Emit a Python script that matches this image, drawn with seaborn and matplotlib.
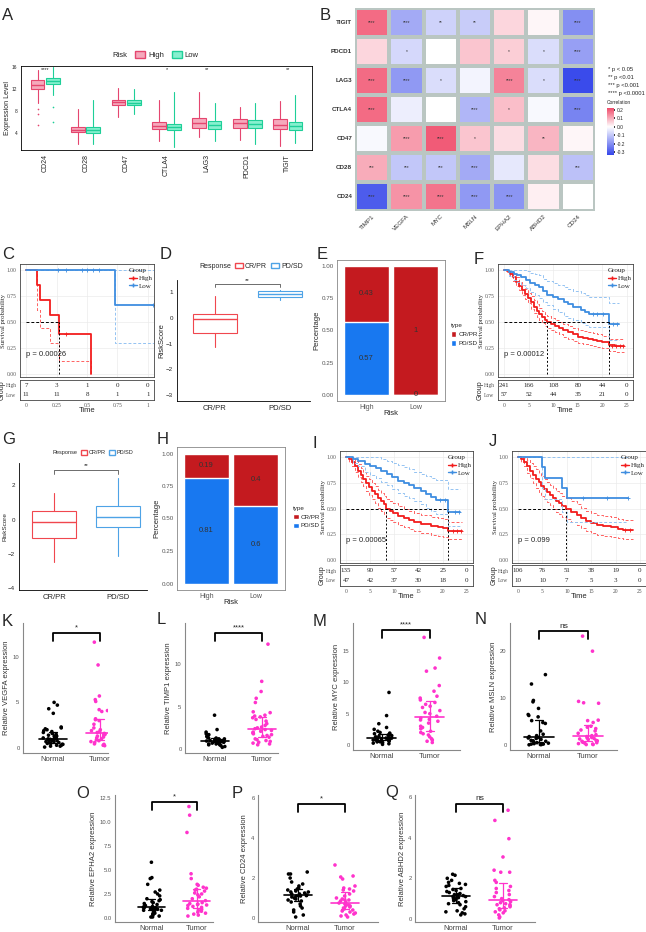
import numpy as np
import pandas as pd
import matplotlib
matplotlib.use("Agg")
import matplotlib.pyplot as plt
import seaborn as sns
from matplotlib.colors import LinearSegmentedColormap
from matplotlib.patches import Patch
from matplotlib.lines import Line2D

# ---------------- data ----------------
# A: immune checkpoint expression by risk group (box summaries)
a_genes = ['CD24', 'CD28', 'CD47', 'CTLA4', 'LAG3', 'PDCD1', 'TIGIT']
a_sig = ['****', '', '', '*', '**', '', '**']
a_high_med = [12.8, 4.7, 9.6, 5.4, 5.8, 5.8, 5.6]
a_high_q1 = [12.0, 4.2, 9.1, 4.8, 5.0, 5.0, 4.8]
a_high_q3 = [13.6, 5.2, 10.0, 6.0, 6.7, 6.6, 6.6]
a_high_lo = [9.5, 2.0, 7.0, 2.7, 3.3, 2.8, 1.7]
a_high_hi = [15.5, 8.5, 12.3, 10.0, 11.5, 8.8, 9.8]
a_high_out = [[8.5, 7.6, 5.5], [], [], [], [], [], []]
a_low_med = [13.5, 4.6, 9.5, 5.2, 5.5, 5.7, 5.4]
a_low_q1 = [13.0, 4.1, 9.1, 4.6, 4.8, 5.0, 4.6]
a_low_q3 = [14.1, 5.1, 10.0, 5.7, 6.2, 6.4, 6.1]
a_low_lo = [11.0, 2.0, 7.5, 1.5, 2.7, 2.0, 2.2]
a_low_hi = [16.0, 10.0, 12.0, 11.5, 9.5, 9.5, 11.0]
a_low_out = [[8.7, 6.0], [], [], [], [], [], []]

# B: correlation heatmap
b_rows = ['TIGIT', 'PDCD1', 'LAG3', 'CTLA4', 'CD47', 'CD28', 'CD24']
b_cols = ['TIMP1', 'VEGFA', 'MYC', 'MSLN', 'EPHA2', 'ABHD2', 'CD24']
b_tigit = [0.18, -0.15, -0.08, -0.09, 0.05, 0.01, -0.20]
b_pdcd1 = [0.05, -0.07, 0.0, 0.07, 0.06, -0.06, -0.17]
b_lag3 = [0.18, -0.18, -0.06, -0.02, 0.15, -0.06, -0.32]
b_ctla4 = [0.18, -0.03, 0.0, -0.13, 0.08, -0.01, -0.22]
b_cd47 = [-0.01, 0.12, 0.20, 0.07, 0.04, 0.09, 0.01]
b_cd28 = [0.10, -0.10, -0.10, -0.15, -0.04, 0.04, -0.11]
b_cd24 = [-0.29, 0.13, 0.17, -0.18, -0.19, 0.02, np.nan]
b_star_tigit = ['****', '****', '**', '**', '', '', '****']
b_star_pdcd1 = ['', '*', '', '', '*', '*', '****']
b_star_lag3 = ['****', '****', '*', '', '****', '*', '****']
b_star_ctla4 = ['****', '', '', '****', '*', '', '****']
b_star_cd47 = ['', '****', '****', '*', '', '**', '']
b_star_cd28 = ['***', '***', '***', '****', '', '', '***']
b_star_cd24 = ['****', '****', '****', '****', '****', '', '']

# C: KM curves
c_high_t = [0, 0.09, 0.115, 0.2, 0.27, 0.53]
c_high_s = [1, 0.857, 0.714, 0.571, 0.381, 0.0]
c_high_lo = [1, 0.62, 0.44, 0.30, 0.125, 0.0]
c_high_hi = [1, 1, 1, 1, 1, 1]
c_low_t = [0, 0.73, 1.05]
c_low_s = [1, 0.667, 0.667]
c_low_lo = [1, 0.30, 0.30]
c_low_hi = [1, 1, 1]
c_high_cens_t = [0.33]
c_high_cens_s = [0.381]
c_low_cens_t = [0.26, 0.33, 0.46, 0.50, 0.55, 0.60, 1.04]
c_low_cens_s = [1, 1, 1, 1, 1, 1, 0.667]
c_medians = [0.27]
c_risk_high = [7, 3, 1, 0, 0]
c_risk_low = [11, 11, 8, 1, 1]

# D / G: RiskScore by response (box summaries: whislo, q1, med, q3, whishi)
d_crpr = [-1.15, -0.6, -0.05, 0.15, 0.85]
d_pdsd = [0.69, 0.8, 0.92, 1.04, 1.08]
g_crpr = [-2.45, -1.05, -0.15, 0.5, 1.55]
g_pdsd = [-2.1, -0.4, 0.15, 0.8, 2.4]

# E / H: response proportions
risk_groups = ['High', 'Low']
e_crpr = [0.43, 1.0]
e_pdsd = [0.57, 0.0]
h_crpr = [0.19, 0.4]
h_pdsd = [0.81, 0.6]

# F
f_high_t = [0, 0.6, 1.2, 1.8, 2.4, 3.0, 3.6, 4.2, 4.8, 5.4, 6.0, 6.6, 7.2, 7.8, 8.4, 8.8, 9.6, 10.4,
            11.2, 12.0, 13.0, 14.0, 15.0, 16.0, 17.0, 18.0, 19.0, 20.0, 21.3, 22.5, 24.4]
f_high_s = [1, 0.99, 0.96, 0.93, 0.89, 0.85, 0.81, 0.77, 0.73, 0.69, 0.65, 0.61, 0.58, 0.55, 0.52, 0.50,
            0.48, 0.46, 0.44, 0.42, 0.40, 0.38, 0.36, 0.35, 0.34, 0.33, 0.32, 0.31, 0.28, 0.27, 0.27]
f_high_hi = [1, 1, 0.98, 0.96, 0.93, 0.89, 0.86, 0.82, 0.78, 0.75, 0.71, 0.67, 0.64, 0.61, 0.58, 0.56,
             0.54, 0.52, 0.50, 0.48, 0.46, 0.44, 0.42, 0.41, 0.40, 0.39, 0.38, 0.37, 0.34, 0.34, 0.34]
f_high_lo = [1, 0.98, 0.94, 0.90, 0.85, 0.81, 0.76, 0.72, 0.68, 0.63, 0.59, 0.55, 0.52, 0.49, 0.46, 0.44,
             0.42, 0.40, 0.38, 0.36, 0.34, 0.32, 0.30, 0.29, 0.28, 0.27, 0.26, 0.25, 0.22, 0.21, 0.21]
f_low_t = [0, 1.0, 2.0, 2.7, 3.5, 4.5, 5.3, 6.2, 7.0, 8.0, 8.8, 10.0, 11.0, 12.1, 13.0, 14.0, 15.6,
           16.5, 17.3, 21.3, 23.4]
f_low_s = [1, 0.98, 0.96, 0.95, 0.93, 0.91, 0.88, 0.86, 0.84, 0.80, 0.76, 0.74, 0.72, 0.69, 0.67, 0.65,
           0.62, 0.60, 0.58, 0.485, 0.485]
f_low_hi = [1, 1, 1, 1, 1, 0.99, 0.97, 0.96, 0.95, 0.92, 0.90, 0.88, 0.86, 0.84, 0.82, 0.80, 0.78,
            0.76, 0.74, 0.68, 0.68]
f_low_lo = [1, 0.94, 0.91, 0.89, 0.86, 0.83, 0.79, 0.76, 0.73, 0.69, 0.66, 0.63, 0.60, 0.56, 0.54,
            0.52, 0.49, 0.47, 0.45, 0.33, 0.33]
f_high_cens_t = [22.0, 22.8, 23.5, 24.2]
f_high_cens_s = [0.27, 0.27, 0.27, 0.27]
f_low_cens_t = [18.0, 19.0, 20.2, 22.2, 23.0]
f_low_cens_s = [0.58, 0.58, 0.58, 0.485, 0.485]
f_medians = [8.8, 21.3]
f_risk_high = [241, 166, 108, 80, 44, 0]
f_risk_low = [57, 52, 44, 35, 21, 0]

# I
i_high_t = [0, 0.6, 1.2, 1.8, 2.4, 3.0, 3.6, 4.2, 4.8, 5.4, 6.0, 6.6, 7.2, 7.8, 8.3, 9.0, 9.8, 10.8,
            12.0, 13.0, 14.0, 15.5, 17.5, 19.0, 20.0, 21.1, 22.5, 24.0]
i_high_s = [1, 0.98, 0.95, 0.91, 0.87, 0.83, 0.79, 0.75, 0.71, 0.67, 0.64, 0.60, 0.57, 0.54, 0.50,
            0.48, 0.46, 0.43, 0.41, 0.39, 0.37, 0.35, 0.33, 0.32, 0.31, 0.28, 0.28, 0.28]
i_high_hi = [1, 1, 0.99, 0.96, 0.93, 0.89, 0.86, 0.82, 0.79, 0.75, 0.72, 0.68, 0.65, 0.62, 0.59,
             0.57, 0.55, 0.52, 0.50, 0.48, 0.46, 0.44, 0.42, 0.41, 0.40, 0.37, 0.37, 0.37]
i_high_lo = [1, 0.95, 0.91, 0.86, 0.81, 0.76, 0.72, 0.67, 0.63, 0.59, 0.55, 0.51, 0.48, 0.45, 0.41,
             0.39, 0.37, 0.34, 0.32, 0.30, 0.28, 0.26, 0.24, 0.23, 0.22, 0.20, 0.20, 0.20]
i_low_t = [0, 1.5, 2.5, 3.9, 5.0, 6.2, 7.3, 8.5, 9.5, 10.8, 12.0, 13.0, 14.0, 15.5, 16.5, 17.5,
           18.5, 21.1, 23.6]
i_low_s = [1, 0.98, 0.96, 0.93, 0.91, 0.89, 0.87, 0.84, 0.81, 0.77, 0.75, 0.73, 0.70, 0.67, 0.64,
           0.61, 0.58, 0.47, 0.47]
i_low_hi = [1, 1, 1, 1, 1, 1, 0.98, 0.96, 0.94, 0.92, 0.90, 0.88, 0.86, 0.84, 0.82, 0.80, 0.78,
            0.69, 0.69]
i_low_lo = [1, 0.94, 0.91, 0.86, 0.83, 0.80, 0.76, 0.73, 0.69, 0.65, 0.62, 0.60, 0.57, 0.54, 0.51,
            0.48, 0.45, 0.33, 0.33]
i_high_cens_t = [22.2, 23.0, 23.8]
i_high_cens_s = [0.28, 0.28, 0.28]
i_low_cens_t = [19.5, 20.5, 22.5, 23.4]
i_low_cens_s = [0.58, 0.58, 0.47, 0.47]
i_medians = [8.3, 21.1]
i_risk_high = [135, 90, 57, 42, 25, 0]
i_risk_low = [47, 42, 37, 30, 18, 0]

# J
j_high_t = [0, 0.6, 1.2, 1.8, 2.4, 3.0, 3.6, 4.2, 4.8, 5.4, 6.0, 6.6, 7.2, 7.8, 8.4, 9.0, 9.8, 10.8,
            12.0, 13.0, 14.0, 15.0, 16.2, 17.5, 19.0, 20.5, 21.5, 23.6]
j_high_s = [1, 0.98, 0.95, 0.91, 0.87, 0.83, 0.79, 0.76, 0.72, 0.69, 0.66, 0.63, 0.60, 0.57, 0.55,
            0.52, 0.50, 0.47, 0.44, 0.41, 0.38, 0.36, 0.34, 0.33, 0.32, 0.30, 0.29, 0.29]
j_high_hi = [1, 1, 0.99, 0.97, 0.94, 0.91, 0.88, 0.85, 0.82, 0.79, 0.76, 0.73, 0.70, 0.67, 0.65,
             0.62, 0.60, 0.57, 0.54, 0.51, 0.48, 0.46, 0.44, 0.43, 0.42, 0.40, 0.39, 0.39]
j_high_lo = [1, 0.95, 0.91, 0.85, 0.80, 0.75, 0.70, 0.66, 0.62, 0.59, 0.56, 0.53, 0.50, 0.47, 0.45,
             0.42, 0.40, 0.37, 0.34, 0.31, 0.28, 0.26, 0.24, 0.23, 0.22, 0.21, 0.20, 0.20]
j_low_t = [0, 5.0, 5.5, 9.0, 10.0, 22.5]
j_low_s = [1, 0.9, 0.8, 0.7, 0.6, 0.6]
j_low_hi = [1, 1, 1, 1, 1, 1]
j_low_lo = [1, 0.70, 0.59, 0.47, 0.37, 0.37]
j_high_cens_t = [22.0, 23.0]
j_high_cens_s = [0.29, 0.29]
j_low_cens_t = [13.3, 18.2, 22.5]
j_low_cens_s = [0.6, 0.6, 0.6]
j_medians = [9.8]
j_risk_high = [106, 76, 51, 38, 19, 0]
j_risk_low = [10, 10, 7, 5, 3, 0]

# K-Q: qPCR relative expression
k_normal = [5.0, 4.7, 4.3, 3.8, 2.3, 2.2, 2.1, 2.0, 1.9, 1.8, 1.7, 1.6, 1.5, 1.4, 1.3, 1.2, 1.1, 1.0,
            1.0, 0.9, 0.9, 0.8, 0.8, 0.7, 0.7, 0.6, 0.6, 0.5, 0.5, 0.4, 0.4, 0.3, 0.3, 0.2, 0.2, 0.1,
            1.1, 1.3, 0.95]
k_tumor = [11.6, 9.1, 5.7, 5.3, 5.1, 4.2, 4.1, 4.0, 3.2, 3.1, 3.0, 2.6, 2.2, 2.0, 1.9, 1.8, 1.7, 1.6,
           1.5, 1.45, 1.4, 1.3, 1.2, 1.1, 1.0, 0.9, 0.8, 0.7, 0.6, 0.5, 0.45, 0.4, 0.3, 0.25]
l_normal = [4.0, 2.3, 2.0, 1.8, 1.7, 1.6, 1.5, 1.4, 1.3, 1.3, 1.2, 1.2, 1.1, 1.1, 1.0, 1.0, 1.0, 0.9,
            0.9, 0.9, 0.8, 0.8, 0.8, 0.7, 0.7, 0.6, 0.6, 0.5, 0.5, 0.4, 0.3, 0.2, 1.05, 0.95, 1.15, 0.85]
l_tumor = [12.4, 8.0, 6.8, 6.0, 5.5, 4.4, 4.3, 4.0, 3.9, 3.8, 3.7, 3.5, 3.0, 2.8, 2.6, 2.5, 2.3, 2.2,
           2.1, 2.0, 1.9, 1.8, 1.7, 1.5, 1.4, 1.2, 1.1, 1.0, 0.9, 0.8, 0.7, 0.6, 0.5, 1.6, 2.4, 3.3]
m_normal = [8.4, 4.7, 3.4, 2.8, 2.5, 2.2, 2.0, 1.9, 1.8, 1.7, 1.6, 1.5, 1.4, 1.3, 1.2, 1.2, 1.1, 1.1,
            1.0, 1.0, 0.9, 0.9, 0.8, 0.8, 0.7, 0.6, 0.6, 0.5, 0.5, 0.4, 0.3, 0.2, 0.1, 1.05]
m_tumor = [17.2, 13.9, 12.3, 11.8, 9.5, 8.6, 7.8, 7.5, 7.2, 6.8, 6.5, 6.2, 6.0, 5.5, 5.0, 4.6, 4.3,
           4.1, 4.0, 3.8, 3.5, 3.0, 2.6, 2.2, 2.0, 1.8, 1.6, 1.3, 1.0, 0.8, 0.6, 0.4, 2.8, 5.2]
n_normal = [15.0, 13.0, 9.2, 9.5, 7.8, 6.5, 6.3, 6.0, 5.2, 4.8, 4.6, 3.0, 2.3, 2.0, 1.8, 1.6, 1.4,
            1.2, 1.0, 0.9, 0.8, 0.6, 0.5, 0.4, 0.3, 0.2, 0.2, 0.1, 0.1, 0.05, 1.7, 1.5]
n_tumor = [23.2, 20.0, 9.3, 9.0, 8.9, 5.3, 5.2, 4.8, 4.0, 3.8, 3.5, 3.2, 3.0, 2.5, 2.2, 2.0, 1.8, 1.6,
           1.5, 1.4, 1.3, 1.2, 1.0, 0.9, 0.8, 0.6, 0.5, 0.4, 0.3, 0.2, 0.1, 0.1]
o_normal = [5.8, 4.2, 4.1, 3.5, 2.9, 2.7, 2.5, 2.3, 2.0, 1.9, 1.8, 1.7, 1.6, 1.5, 1.4, 1.3, 1.2, 1.1,
            1.1, 1.0, 1.0, 0.9, 0.9, 0.8, 0.8, 0.7, 0.6, 0.5, 0.4, 0.3, 0.2, 0.1, 0.1, 1.05, 1.15, 0.95]
o_tumor = [11.6, 10.7, 8.9, 4.6, 4.1, 3.5, 3.4, 3.2, 3.0, 2.8, 2.6, 2.5, 2.4, 2.2, 2.0, 1.8, 1.6, 1.5,
           1.4, 1.35, 1.3, 1.2, 1.1, 1.0, 0.9, 0.8, 0.7, 0.6, 0.5, 0.4, 0.3, 0.2, 1.45, 2.9, 3.1]
p_normal = [2.3, 2.2, 2.2, 2.0, 1.8, 1.7, 1.6, 1.5, 1.45, 1.4, 1.35, 1.3, 1.25, 1.2, 1.2, 1.15, 1.1,
            1.1, 1.05, 1.0, 1.0, 0.95, 0.9, 0.85, 0.8, 0.7, 0.6, 0.5, 0.4, 0.3, 0.15, 0.05, 1.3, 1.12]
p_tumor = [2.65, 2.1, 2.05, 1.95, 1.6, 1.5, 1.45, 1.4, 1.35, 1.2, 1.1, 1.0, 0.95, 0.9, 0.85, 0.8,
           0.75, 0.7, 0.7, 0.65, 0.6, 0.55, 0.5, 0.45, 0.4, 0.35, 0.3, 0.25, 0.2, 0.15, 0.1, 0.05, 0.9, 0.6]
q_normal = [2.2, 2.15, 2.0, 1.9, 1.8, 1.75, 1.7, 1.65, 1.6, 1.5, 1.45, 1.4, 1.35, 1.3, 1.25, 1.2,
            1.15, 1.1, 1.1, 1.05, 1.0, 0.95, 0.9, 0.85, 0.8, 0.75, 0.7, 0.6, 0.5, 0.4, 0.35, 0.3, 0.25,
            0.2, 1.2, 1.0]
q_tumor = [5.35, 4.85, 3.95, 3.05, 2.4, 2.3, 2.3, 1.9, 1.8, 1.6, 1.5, 1.4, 1.2, 1.1, 1.0, 0.95, 0.9,
           0.85, 0.8, 0.75, 0.7, 0.65, 0.6, 0.55, 0.5, 0.45, 0.4, 0.35, 0.3, 0.2, 0.1, 0.05, 0.7, 1.3]

# ---------------- style ----------------
sns.set_theme(style="white")
plt.rcParams['font.family'] = ['Liberation Sans', 'DejaVu Sans']
plt.rcParams['axes.linewidth'] = 0.6
SERIF = ['Liberation Serif', 'DejaVu Serif']
KM_RED, KM_RED_CI = '#F21D1D', '#FF6161'
KM_BLUE, KM_BLUE_CI = '#3F8EE0', '#94C3F2'
BAR_RED, BAR_BLUE = '#C41A1F', '#1878F0'
MAG = '#FF33CC'
np.random.seed(3)

W, H = 646, 932
fig = plt.figure(figsize=(W / 100, H / 100), dpi=100)


def px_axes(l, t, r, b):
    return fig.add_axes([l / W, 1 - b / H, (r - l) / W, (b - t) / H])


def panel_label(x, y, s):
    fig.text(x / W, 1 - y / H, s, fontsize=12, va='center', ha='left')


# ---------------- A ----------------
ax = px_axes(21, 66, 312, 150)
pos = np.arange(len(a_genes))
for off, med, q1, q3, lo, hi, outs, ec, fc in [
        (-0.19, a_high_med, a_high_q1, a_high_q3, a_high_lo, a_high_hi, a_high_out, '#E5466F', '#F5A9BC'),
        (0.19, a_low_med, a_low_q1, a_low_q3, a_low_lo, a_low_hi, a_low_out, '#1ECF98', '#86F0CF')]:
    stats = [dict(med=m, q1=a, q3=b, whislo=l, whishi=h, fliers=f)
             for m, a, b, l, h, f in zip(med, q1, q3, lo, hi, outs)]
    ax.bxp(stats, positions=pos + off, widths=0.34, patch_artist=True, showcaps=False,
           boxprops=dict(facecolor=fc, edgecolor=ec, lw=0.8),
           medianprops=dict(color=ec, lw=1.0), whiskerprops=dict(color=ec, lw=0.8),
           flierprops=dict(marker='o', ms=1.2, mfc=ec, mec='none'))
for i, s in enumerate(a_sig):
    ax.text(i, 15.5, s, ha='center', va='center', fontsize=4)
ax.set_xlim(-0.6, 6.6)
ax.set_ylim(1, 16.2)
ax.set_yticks([4, 8, 12, 16])
ax.set_xticks(pos)
ax.set_xticklabels(a_genes, rotation=90, fontsize=5)
ax.tick_params(axis='y', labelsize=3.5, length=1.5, pad=1)
ax.tick_params(axis='x', length=1.5, pad=1.5)
ax.set_ylabel('Expression Level', fontsize=5, labelpad=1)
for sp in ax.spines.values():
    sp.set_color('black')
h = [Patch(visible=False), Patch(fc='#F5A9BC', ec='#E5466F'), Patch(fc='#86F0CF', ec='#1ECF98')]
ax.legend(h, ['Risk', 'High', 'Low'], ncol=3, loc='lower center', bbox_to_anchor=(0.44, 1.0),
          frameon=False, fontsize=5.5, handlelength=1.3, handleheight=0.9, columnspacing=1.0,
          handletextpad=0.4)
panel_label(2, 15, 'A')

# ---------------- B ----------------
ax = px_axes(355, 8, 595, 211)
cax = px_axes(607, 108, 614, 155)
corr = pd.DataFrame([b_tigit, b_pdcd1, b_lag3, b_ctla4, b_cd47, b_cd28, b_cd24], index=b_rows, columns=b_cols)
stars = np.array([b_star_tigit, b_star_pdcd1, b_star_lag3, b_star_ctla4, b_star_cd47, b_star_cd28, b_star_cd24])
cmap = LinearSegmentedColormap.from_list('corr', [(0, '#3546EA'), (0.6, '#FFFFFF'), (1, '#F04B6A')])
sns.heatmap(corr, mask=corr.isna(), cmap=cmap, vmin=-0.33, vmax=0.22, annot=stars, fmt='',
            annot_kws=dict(fontsize=3.5, color='#333333'), linewidths=1.6, linecolor='#BAC6C2',
            cbar_ax=cax, ax=ax)
ax.tick_params(length=0, pad=2)
ax.set_yticklabels(b_rows, rotation=0, fontsize=4.5, fontweight='bold', color='#333333')
ax.set_xticklabels(b_cols, rotation=45, ha='right', rotation_mode='anchor', fontsize=4.5, color='#333333')
ax.set_xlabel('')
ax.set_ylabel('')
cax.set_yticks([-0.3, -0.2, -0.1, 0.0, 0.1, 0.2])
cax.set_yticklabels(['-0.3', '-0.2', '-0.1', '0.0', '0.1', '0.2'])
cax.tick_params(labelsize=3.5, length=1, pad=1)
fig.text(607 / W, 1 - 102 / H, 'Correlation', fontsize=3.5, va='center')
for k, s in enumerate(['* p < 0.05', '** p <0.01', '*** p <0.001', '**** p <0.0001']):
    fig.text(608 / W, 1 - (69 + 8 * k) / H, s, fontsize=4.2, va='center')
panel_label(320, 15, 'B')


# ---------------- KM helper ----------------
def km_panel(rect_main, rect_tab, xmax, xticks, curves, censors, medians, pval, risk_high, risk_low):
    ax = px_axes(*rect_main)
    tab = px_axes(*rect_tab)
    for (t, s, lo, hi), col, ccol in zip(curves, [KM_RED, KM_BLUE], [KM_RED_CI, KM_BLUE_CI]):
        for y, c, lw, ls in [(hi, ccol, 0.7, (0, (3, 2))), (lo, ccol, 0.7, (0, (3, 2))), (s, col, 1.3, '-')]:
            sns.lineplot(x=t, y=y, drawstyle='steps-post', estimator=None, color=c, lw=lw,
                         linestyle=ls, ax=ax)
    for (ct, cs), col in zip(censors, [KM_RED, KM_BLUE]):
        ax.plot(ct, cs, '+', color=col, ms=3, mew=0.6)
    ax.plot([0, max(medians)], [0.5, 0.5], color='black', lw=0.7, ls=(0, (3, 2)))
    for m in medians:
        ax.plot([m, m], [0, 0.5], color='black', lw=0.7, ls=(0, (2, 2)))
    ax.text(0, 0.19, pval, fontsize=5.5, va='center', ha='left')
    ax.set_xlim(-0.05 * xmax, 1.05 * xmax)
    ax.set_ylim(-0.03, 1.06)
    ax.set_xticks(xticks)
    ax.set_yticks([0, 0.25, 0.5, 0.75, 1.0])
    ax.set_yticklabels(['0.00', '0.25', '0.50', '0.75', '1.00'], family=SERIF)
    ax.tick_params(labelbottom=False, labelsize=4, length=1.5, pad=1, colors='#555555')
    ax.grid(True, color='#EBEBEB', lw=0.5)
    ax.set_ylabel('Survival probability', fontsize=4.8, family=SERIF, labelpad=0.5)
    ax.set_xlabel('')
    h = [Line2D([0], [0], color=KM_RED, lw=1, marker='+', ms=3),
         Line2D([0], [0], color=KM_BLUE, lw=1, marker='+', ms=3)]
    ax.legend(h, ['High', 'Low'], title='Group', loc='upper right', bbox_to_anchor=(1.04, 1.02),
              frameon=False, prop=dict(family=SERIF, size=5), title_fontproperties=dict(family=SERIF, size=5),
              handlelength=1.2, handletextpad=0.3, labelspacing=0.3, alignment='left')
    for sp in ax.spines.values():
        sp.set_color('#444444')
    # risk table
    for x, nh, nl in zip(xticks, risk_high, risk_low):
        tab.text(x, 1, str(nh), ha='center', va='center', fontsize=5, family=SERIF)
        tab.text(x, 0, str(nl), ha='center', va='center', fontsize=5, family=SERIF)
    tab.set_xlim(-0.05 * xmax, 1.05 * xmax)
    tab.set_ylim(-0.6, 1.6)
    tab.set_xticks(xticks)
    tab.set_xticklabels([f'{v:g}' for v in xticks], family=SERIF)
    tab.set_yticks([1, 0])
    tab.set_yticklabels(['High', 'Low'], family=SERIF)
    tab.tick_params(labelsize=4, length=1.5, pad=1, colors='#555555')
    tab.set_xlabel('Time', fontsize=5.5, labelpad=-1)
    tab.set_ylabel('Group', fontsize=5, labelpad=0)
    for sp in tab.spines.values():
        sp.set_color('#444444')


# ---------------- C ----------------
km_panel((20, 264, 154, 377), (20, 380, 154, 400), 1.0, [0, 0.25, 0.5, 0.75, 1.0],
         [(c_high_t, c_high_s, c_high_lo, c_high_hi), (c_low_t, c_low_s, c_low_lo, c_low_hi)],
         [(c_high_cens_t, c_high_cens_s), (c_low_cens_t, c_low_cens_s)],
         c_medians, 'p = 0.00026', c_risk_high, c_risk_low)
panel_label(2, 255, 'C')


# ---------------- D / G ----------------
def resp_box(rect, crpr, pdsd, ylim, yticks, xlim, br_y, br_drop, leg_xy, leg_fs, lab_fs):
    ax = px_axes(*rect)
    for i, (st, col) in enumerate([(crpr, '#F0474E'), (pdsd, '#4EA3E6')]):
        lo, q1, med, q3, hi = st
        ax.bxp([dict(med=med, q1=q1, q3=q3, whislo=lo, whishi=hi, fliers=[])], positions=[i],
               widths=0.68, patch_artist=True, showcaps=False,
               boxprops=dict(facecolor='white', edgecolor=col, lw=0.8),
               medianprops=dict(color=col, lw=1.0), whiskerprops=dict(color=col, lw=0.8))
    ax.plot([0, 0, 1, 1], [br_y - br_drop, br_y, br_y, br_y - br_drop], color='#555555', lw=0.6)
    ax.text(0.5, br_y + br_drop * 0.4, '**', ha='center', va='bottom', fontsize=4.5)
    ax.set_xlim(*xlim)
    ax.set_ylim(*ylim)
    ax.set_yticks(yticks)
    ax.set_xticks([0, 1])
    ax.set_xticklabels(['CR/PR', 'PD/SD'], fontsize=5.5)
    ax.tick_params(axis='y', labelsize=4.5, length=2, pad=1)
    ax.tick_params(axis='x', length=2, pad=1)
    ax.set_ylabel('RiskScore', fontsize=lab_fs, labelpad=0.5)
    sns.despine(ax=ax)
    for sp in ax.spines.values():
        sp.set_color('black')
    h = [Patch(visible=False), Patch(fc='white', ec='#F0474E'), Patch(fc='white', ec='#4EA3E6')]
    ax.legend(h, ['Response', 'CR/PR', 'PD/SD'], ncol=3, loc='center', bbox_to_anchor=leg_xy,
              frameon=False, fontsize=leg_fs, handlelength=1.1, handleheight=0.8, columnspacing=0.6,
              handletextpad=0.3)
    return ax


resp_box((177, 280, 310, 401), d_crpr, d_pdsd, (-3.23, 1.47), [-3, -2, -1, 0, 1], (-0.58, 1.46),
         1.31, 0.12, (0.52, 1.11), 5.0, 5.5)
panel_label(160, 255, 'D')
resp_box((19, 463, 147, 590), g_crpr, g_pdsd, (-4.1, 3.3), [-4, -2, 0, 2], (-0.55, 1.45),
         2.88, 0.25, (0.55, 1.08), 4.0, 4.6)
panel_label(2, 440, 'G')


# ---------------- E / H ----------------
def stacked(rect, crpr, pdsd, leg_xy):
    ax = px_axes(*rect)
    total = [a + b for a, b in zip(crpr, pdsd)]
    sns.barplot(x=risk_groups, y=total, color=BAR_RED, width=0.9, saturation=1, ax=ax)
    sns.barplot(x=risk_groups, y=pdsd, color=BAR_BLUE, width=0.9, saturation=1, ax=ax)
    for i, (a, b) in enumerate(zip(crpr, pdsd)):
        ax.text(i, b + a / 2, f'{a:g}', ha='center', va='center', fontsize=5.5, color='#333333')
        ax.text(i, b / 2, f'{b:g}', ha='center', va='center', fontsize=5.5, color='#333333')
    ax.set_xlim(-0.6, 1.6)
    ax.set_ylim(-0.05, 1.05)
    ax.set_yticks([0, 0.25, 0.5, 0.75, 1.0])
    ax.set_yticklabels(['0.00', '0.25', '0.50', '0.75', '1.00'])
    ax.tick_params(labelsize=4.5, length=1.5, pad=1, colors='#555555')
    ax.tick_params(axis='x', labelsize=5)
    ax.set_ylabel('Percentage', fontsize=5.5, labelpad=1)
    ax.set_xlabel('Risk', fontsize=5.5, labelpad=-1)
    for sp in ax.spines.values():
        sp.set_color('#888888')
    h = [Patch(fc=BAR_RED), Patch(fc=BAR_BLUE)]
    ax.legend(h, ['CR/PR', 'PD/SD'], title='type', loc='center left', bbox_to_anchor=leg_xy,
              frameon=False, fontsize=4.5, title_fontsize=4.5, handlelength=0.9, handleheight=0.9,
              handletextpad=0.3, borderaxespad=0, alignment='left')


stacked((337, 260, 445, 401), e_crpr, e_pdsd, (1.03, 0.47))
panel_label(317, 255, 'E')
stacked((177, 447, 285, 590), h_crpr, h_pdsd, (1.05, 0.51))
panel_label(157, 440, 'H')

# ---------------- F / I / J ----------------
km_panel((498, 264, 633, 377), (498, 380, 633, 400), 25, [0, 5, 10, 15, 20, 25],
         [(f_high_t, f_high_s, f_high_lo, f_high_hi), (f_low_t, f_low_s, f_low_lo, f_low_hi)],
         [(f_high_cens_t, f_high_cens_s), (f_low_cens_t, f_low_cens_s)],
         f_medians, 'p = 0.00012', f_risk_high, f_risk_low)
panel_label(474, 259, 'F')
km_panel((340, 451, 473, 563), (340, 565, 473, 586), 25, [0, 5, 10, 15, 20, 25],
         [(i_high_t, i_high_s, i_high_lo, i_high_hi), (i_low_t, i_low_s, i_low_lo, i_low_hi)],
         [(i_high_cens_t, i_high_cens_s), (i_low_cens_t, i_low_cens_s)],
         i_medians, 'p = 0.00065', i_risk_high, i_risk_low)
panel_label(312, 443, 'I')
km_panel((512, 451, 646, 563), (512, 565, 646, 586), 25, [0, 5, 10, 15, 20, 25],
         [(j_high_t, j_high_s, j_high_lo, j_high_hi), (j_low_t, j_low_s, j_low_lo, j_low_hi)],
         [(j_high_cens_t, j_high_cens_s), (j_low_cens_t, j_low_cens_s)],
         j_medians, 'p = 0.099', j_risk_high, j_risk_low)
panel_label(489, 442, 'J')


# ---------------- K-Q ----------------
def dot_panel(rect, normal, tumor, ylabel, ylim, yticks, xlim, sig, br_px, ytl=None):
    ax = px_axes(*rect)
    df = pd.DataFrame({'group': ['Normal'] * len(normal) + ['Tumor'] * len(tumor),
                       'value': normal + tumor})
    sns.stripplot(data=df, x='group', y='value', hue='group', palette={'Normal': 'black', 'Tumor': MAG},
                  jitter=0.22, size=2.6, linewidth=0, legend=False, ax=ax)
    for i, (vals, col) in enumerate([(normal, 'black'), (tumor, MAG)]):
        q1, med, q3 = np.percentile(vals, [25, 50, 75])
        ax.plot([i - 0.3, i + 0.3], [med, med], color=col, lw=1.2)
        ax.plot([i, i], [q1, q3], color=col, lw=0.9)
        ax.plot([i - 0.08, i + 0.08], [q1, q1], color=col, lw=0.9)
        ax.plot([i - 0.08, i + 0.08], [q3, q3], color=col, lw=0.9)
    ax.set_xlim(*xlim)
    ax.set_ylim(*ylim)
    ax.set_yticks(yticks)
    if ytl is not None:
        ax.set_yticklabels(ytl)
    ppu = (rect[3] - rect[1]) / (ylim[1] - ylim[0])
    top = ylim[1] - br_px / ppu
    drop = 8 / ppu
    ax.plot([0, 0, 1, 1], [top - drop, top, top, top - drop], color='black', lw=1.3)
    ax.text(0.5, top + 1.5 / ppu, sig, ha='center', va='bottom', fontsize=6 if sig == 'ns' else 5.5)
    ax.tick_params(axis='y', labelsize=4.2, length=1.5, pad=1, colors='#555555')
    ax.tick_params(axis='x', labelsize=5.5, length=1.5, pad=1, colors='#444444')
    ax.set_xlabel('')
    ax.set_ylabel(ylabel, fontsize=5.5, labelpad=2, color='#333333')
    sns.despine(ax=ax)
    for sp in ax.spines.values():
        sp.set_color('#888888')
        sp.set_linewidth(0.8)


dot_panel((23, 623, 108, 753), k_normal, k_tumor, 'Relative VEGFA expression', (-0.55, 13.7), [0, 5, 10],
          (-0.64, 1.17), '*', 10)
panel_label(2, 622, 'K')
dot_panel((185, 623, 278, 753), l_normal, l_tumor, 'Relative TIMP1 expression', (-0.47, 14.9), [0, 5, 10],
          (-0.64, 1.34), '****', 10)
panel_label(157, 620, 'L')
dot_panel((353, 623, 460, 750), m_normal, m_tumor, 'Relative MYC expression', (-0.8, 19.5), [0, 5, 10, 15],
          (-0.6, 1.63), '****', 7)
panel_label(313, 622, 'M')
dot_panel((510, 623, 617, 750), n_normal, n_tumor, 'Relative MSLN expression', (-1.06, 26), [0, 10, 20],
          (-0.59, 1.59), 'ns', 8)
panel_label(475, 620, 'N')
dot_panel((115, 795, 213, 922), o_normal, o_tumor, 'Relative EPHA2 expression', (-0.42, 12.8),
          [0, 2.5, 5, 7.5, 10, 12.5], (-0.82, 1.36), '*', 7,
          ['0.0', '2.5', '5.0', '7.5', '10.0', '12.5'])
panel_label(76, 793, 'O')
dot_panel((258, 795, 378, 922), p_normal, p_tumor, 'Relative CD24 expression', (-0.2, 6.15), [0, 2, 4, 6],
          (-0.85, 1.7), '*', 9)
panel_label(232, 793, 'P')
dot_panel((415, 795, 535, 922), q_normal, q_tumor, 'Relative ABHD2 expression', (-0.15, 6.1), [0, 2, 4, 6],
          (-0.87, 1.68), 'ns', 9)
panel_label(385, 792, 'Q')

fig.savefig('out.png', dpi=100)
